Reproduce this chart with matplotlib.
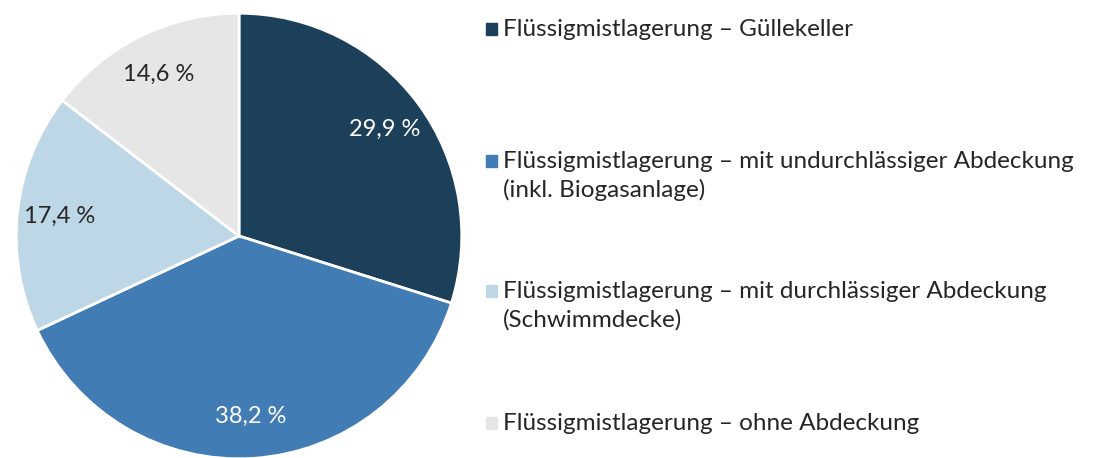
import matplotlib.pyplot as plt
from matplotlib.patches import Rectangle

# Anteile der Lagerungsarten (%)
labels = [
    "Flüssigmistlagerung – Güllekeller",
    "Flüssigmistlagerung – mit undurchlässiger Abdeckung\n(inkl. Biogasanlage)",
    "Flüssigmistlagerung – mit durchlässiger Abdeckung\n(Schwimmdecke)",
    "Flüssigmistlagerung – ohne Abdeckung",
]
values = [29.9, 38.2, 17.4, 14.6]
colors = ["#1c4059", "#427cb4", "#bdd7e7", "#e6e6e6"]
label_colors = ["white", "white", "#262626", "#262626"]

plt.rcParams["font.family"] = ["Lato", "DejaVu Sans"]

fig = plt.figure(figsize=(11.03, 4.58), dpi=100)
ax = fig.add_axes([14 / 1103, -3 / 458, 450 / 1103, 450 / 458])

wedges, texts, autotexts = ax.pie(
    values, colors=colors, startangle=90, counterclock=False,
    radius=1, pctdistance=0.81,
    autopct=lambda p: f"{p:.1f} %".replace(".", ","),
    wedgeprops=dict(edgecolor="white", linewidth=2),
    textprops=dict(fontsize=17),
)
for t, c, v in zip(autotexts, label_colors, values):
    t.set_color(c)
    t.set_text(f"{v:.1f} %".replace(".", ","))
ax.set_xlim(-1.01, 1.01)
ax.set_ylim(-1.01, 1.01)
ax.set_aspect("equal")
ax.axis("off")

# Legende rechts, Marker auf Höhe der ersten Zeile
row_y = [29, 161, 291, 423]
for lab, col, y in zip(labels, colors, row_y):
    fy = 1 - y / 458
    fig.patches.append(Rectangle((486 / 1103, fy - 6 / 458), 11 / 1103, 12 / 458,
                                 transform=fig.transFigure, color=col))
    fig.text(503 / 1103, 1 - (y - 10) / 458, lab, fontsize=17.5, color="#262626",
             va="top", ha="left", linespacing=1.4)

fig.savefig("out.png", dpi=100)
